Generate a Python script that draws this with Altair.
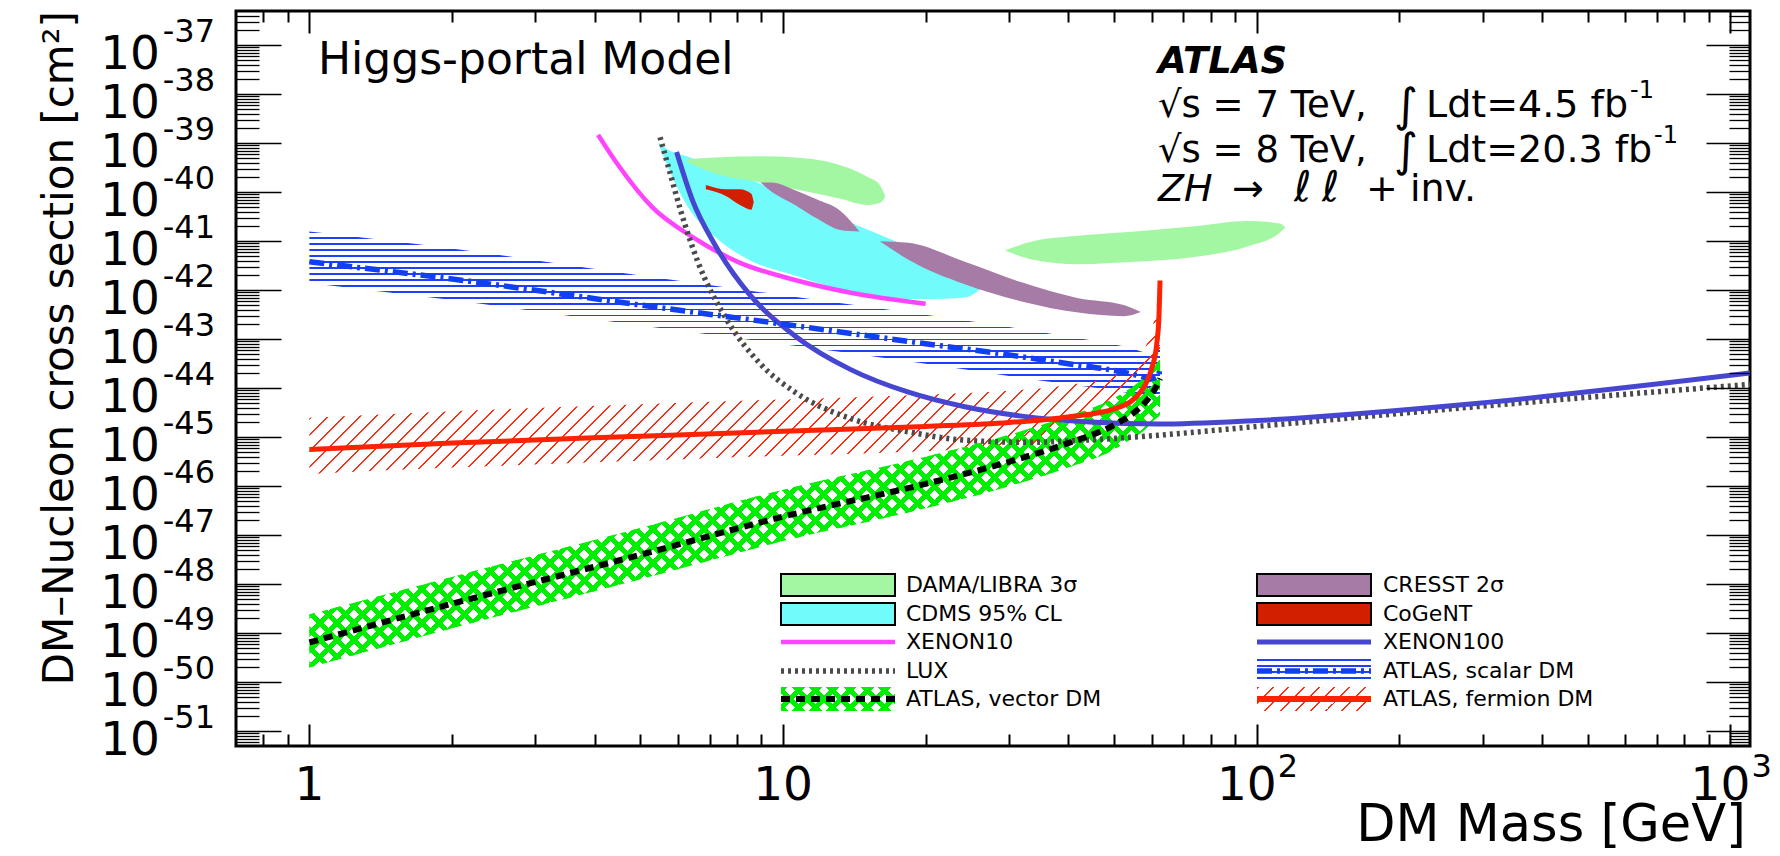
import altair as alt
import numpy as np
import pandas as pd

# ---------------- values ----------------
# ATLAS, vector DM (limit + band)
vec_m  = [1, 2, 5, 10, 20, 30, 40, 50, 55, 58, 60, 61.5, 62.5]
vec_c  = [6.5e-50, 4.0e-49, 4.0e-48, 2.4e-47, 1.12e-46, 3.16e-46, 7.6e-46, 1.78e-45, 3.16e-45, 5.0e-45, 7.6e-45, 1.12e-44, 1.58e-44]
vec_hi = [2.4e-49, 1.41e-48, 1.41e-47, 8.5e-47, 4.0e-46, 1.12e-45, 2.7e-45, 6.3e-45, 1.12e-44, 1.66e-44, 2.4e-44, 3.16e-44, 4.5e-44]
vec_lo = [2.0e-50, 1.26e-49, 1.26e-48, 7.6e-48, 3.55e-47, 1.0e-46, 2.4e-46, 5.6e-46, 1.0e-45, 1.41e-45, 2.0e-45, 2.5e-45, 2.8e-45]

# ATLAS, fermion DM
fer_m  = [1, 2, 5, 10, 20, 30, 40, 50, 55, 58, 60, 61.5, 62.2, 62.5]
fer_c  = [5.6e-46, 7.6e-46, 1.05e-45, 1.32e-45, 1.66e-45, 2.0e-45, 2.6e-45, 3.8e-45, 6.0e-45, 1.12e-44, 2.5e-44, 7.9e-44, 3.16e-43, 1.58e-42]
fer_hi = [2.5e-45, 3.4e-45, 4.7e-45, 5.9e-45, 7.4e-45, 8.9e-45, 1.17e-44, 1.78e-44, 3.16e-44, 6.3e-44, 1.58e-43, 5.0e-43, 1.58e-42, 2.0e-42]
fer_lo = [1.78e-46, 2.4e-46, 3.3e-46, 4.2e-46, 5.2e-46, 6.3e-46, 7.9e-46, 1.12e-45, 1.58e-45, 2.5e-45, 4.0e-45, 7.9e-45, 2.5e-44, 6.3e-44]

# ATLAS, scalar DM
sca_m  = [1, 2, 5, 10, 20, 30, 40, 50, 55, 60, 62, 62.5]
sca_c  = [3.8e-42, 1.7e-42, 5.0e-43, 2.04e-43, 8.1e-44, 4.8e-44, 3.16e-44, 2.3e-44, 1.9e-44, 1.58e-44, 1.78e-44, 2.8e-44]
sca_hi = [1.58e-41, 7.1e-42, 2.0e-42, 7.9e-43, 3.16e-43, 1.78e-43, 1.12e-43, 7.9e-44, 6.3e-44, 5.0e-44, 6.3e-44, 1.0e-43]
sca_lo = [1.41e-42, 6.3e-43, 1.9e-43, 7.9e-44, 3.16e-44, 1.78e-44, 1.2e-44, 8.9e-45, 7.6e-45, 6.3e-45, 7.1e-45, 7.9e-45]

# XENON10
x10_m = [4.07, 4.49, 5.30, 6.43, 8.02, 10.6, 13.9, 20]
x10_s = [1.48e-39, 3.55e-40, 4.9e-41, 1.23e-41, 3.8e-42, 1.62e-42, 8.9e-43, 5.3e-43]

# LUX
lux_m = [5.5, 5.76, 6.08, 6.61, 7.59, 8.95, 10.6, 13.9, 18.4, 24.2, 33, 45, 62, 100, 290, 1100]
lux_s = [1.33e-39, 2.7e-40, 4.2e-41, 3.8e-42, 2.6e-43, 3.16e-44, 8.3e-45, 2.4e-45, 1.29e-45, 8.7e-46, 7.9e-46, 8.9e-46, 1.1e-45, 1.66e-45, 4.2e-45, 1.2e-44]

# XENON100
x100_m = [5.96, 6.43, 7.18, 8.47, 10.6, 13.9, 18.4, 24.2, 31.9, 44.4, 62, 100, 290, 1100]
x100_s = [6.6e-40, 7.1e-41, 8.5e-42, 8.5e-43, 1.17e-43, 2.4e-44, 8.3e-45, 4.2e-45, 2.7e-45, 2.04e-45, 1.86e-45, 2.2e-45, 4.9e-45, 2.04e-44]

# DAMA/LIBRA 3 sigma (two regions)
dama1_m  = [6.26, 7.19, 8.96, 10.6, 13.2, 15.1, 16.0, 16.4]
dama1_hi = [4.7e-40, 5.1e-40, 5.4e-40, 5.1e-40, 3.55e-40, 2.04e-40, 1.41e-40, 8.9e-41]
dama1_lo = [4.2e-40, 2.4e-40, 1.58e-40, 1.15e-40, 7.4e-41, 5.5e-41, 6.0e-41, 7.6e-41]
dama2_m  = [29.4, 33.7, 42, 55.4, 73, 96, 112, 115]
dama2_hi = [6.5e-42, 1.0e-41, 1.29e-41, 1.58e-41, 2.0e-41, 2.6e-41, 2.3e-41, 1.9e-41]
dama2_lo = [6.5e-42, 4.2e-42, 3.4e-42, 3.8e-42, 4.7e-42, 7.9e-42, 1.5e-41, 1.9e-41]

# CDMS 95% CL
cdms_m  = [5.45, 5.76, 6.26, 7.18, 8.47, 10.6, 13.2, 16.4, 20.5, 24.2, 26.4]
cdms_hi = [1.02e-39, 7.1e-40, 5.4e-40, 3.3e-40, 1.86e-40, 7.1e-41, 2.9e-41, 1.23e-41, 4.9e-42, 2.45e-42, 1.17e-42]
cdms_lo = [1.02e-39, 2.7e-40, 5.5e-41, 1.23e-41, 4.2e-42, 2.0e-42, 1.05e-42, 6.9e-43, 6.6e-43, 7.1e-43, 1.17e-42]

# CRESST 2 sigma (two regions)
cr1_m  = [8.96, 9.46, 10.6, 11.8, 13.2, 14.5]
cr1_hi = [1.58e-40, 1.58e-40, 1.1e-40, 7.1e-41, 4.2e-41, 1.58e-41]
cr1_lo = [1.58e-40, 1.02e-40, 5.5e-41, 2.9e-41, 1.7e-41, 1.58e-41]
cr2_m  = [16.0, 18.4, 24.2, 31.9, 42, 52.4, 56.9]
cr2_hi = [1.0e-41, 9.3e-42, 3.8e-42, 1.45e-42, 6.9e-43, 5.0e-43, 3.6e-43]
cr2_lo = [1.0e-41, 4.2e-42, 1.32e-42, 5.9e-43, 3.5e-43, 2.95e-43, 3.6e-43]

# CoGeNT
cog_m  = [6.87, 7.59, 8.11, 8.57, 8.67]
cog_hi = [1.41e-40, 1.15e-40, 1.15e-40, 9.3e-41, 6.3e-41]
cog_lo = [1.15e-40, 8.3e-41, 5.5e-41, 4.4e-41, 6.3e-41]

# axis ticks / labels
x_major = [1, 10, 100, 1000]
y_exponents = list(range(-37, -52, -1))

# ---------------- layout / style ----------------
W, H = 1514, 735
XMIN, XMAX = 0.7, 1100.0
YMIN, YMAX = 5e-52, 5e-37
FONT = "DejaVu Sans"
PX = W / np.log10(XMAX / XMIN)
PY = H / np.log10(YMAX / YMIN)
TR = "rgba(255,255,255,0)"

C_DAMA, C_CDMS, C_CRESST, C_COG = "#a3f7a3", "#72fbfb", "#a67ba6", "#d21f00"
C_X10, C_LUX, C_X100 = "#ff44ff", "#4a4a4a", "#4646d0"
C_SCA, C_SCA_H, C_FER, C_FER_H, C_VEC = "#1040f0", "#1f3fff", "#ff2200", "#ff2a10", "#00ee00"

xs = alt.Scale(type="log", domain=[XMIN, XMAX], nice=False)
ys = alt.Scale(type="log", domain=[YMIN, YMAX], nice=False)


def stops(color, n, frac):
    out = []
    for i in range(n):
        a, b, c = i / n, (i + frac) / n, (i + 1) / n
        out += [alt.GradientStop(color=color, offset=a), alt.GradientStop(color=color, offset=b),
                alt.GradientStop(color=TR, offset=b), alt.GradientStop(color=TR, offset=min(c, 1.0))]
    return out


def grad_h(color, w, h, period, lw):
    n = max(1, int(round(h / period)))
    return alt.LinearGradient(gradient="linear", stops=stops(color, n, lw / (h / n)),
                              x1=0, y1=0, x2=0, y2=1)


def grad_d(color, w, h, period, lw, up=True):
    s = w + h
    n = max(1, int(round(s / period)))
    c = s / (w * w + h * h)
    st = stops(color, n, lw / (s / n))
    if up:
        return alt.LinearGradient(gradient="linear", stops=st, x1=0, y1=0, x2=c * w, y2=c * h)
    return alt.LinearGradient(gradient="linear", stops=st, x1=0, y1=1, x2=c * w, y2=1 - c * h)


def bbox(m, hi, lo):
    return ((np.log10(max(m)) - np.log10(min(m))) * PX,
            (np.log10(max(hi)) - np.log10(min(lo))) * PY)


X = lambda f="m": alt.X(f"{f}:Q", scale=xs, axis=None)
Y = lambda f: alt.Y(f"{f}:Q", scale=ys, axis=None)


def region(m, hi, lo, fill):
    df = pd.DataFrame({"m": m, "hi": hi, "lo": lo})
    return alt.Chart(df).mark_area(fill=fill, opacity=1, clip=True, interpolate="monotone").encode(
        x=X(), y=Y("hi"), y2="lo:Q")


def curve(m, s, color, width, dash=None, interp="monotone"):
    df = pd.DataFrame({"m": m, "s": s})
    kw = dict(color=color, strokeWidth=width, clip=True, interpolate=interp)
    if dash:
        kw["strokeDash"] = dash
    return alt.Chart(df).mark_line(**kw).encode(x=X(), y=Y("s"))


VEC_P, VEC_G = 17.0, 7.0
FER_P, FER_G = 16.0, 2.0

layers = []
# experimental regions
layers.append(region(cdms_m, cdms_hi, cdms_lo, C_CDMS))
layers.append(region(dama1_m, dama1_hi, dama1_lo, C_DAMA))
layers.append(region(dama2_m, dama2_hi, dama2_lo, C_DAMA))
layers.append(region(cr1_m, cr1_hi, cr1_lo, C_CRESST))
layers.append(region(cr2_m, cr2_hi, cr2_lo, C_CRESST))
layers.append(region(cog_m, cog_hi, cog_lo, C_COG))

# ATLAS bands
w, h = bbox(sca_m, sca_hi, sca_lo)
layers.append(region(sca_m, sca_hi, sca_lo, grad_h(C_SCA_H, w, h, 6.0, 1.6)))
w, h = bbox(fer_m, fer_hi, fer_lo)
layers.append(region(fer_m, fer_hi, fer_lo, grad_d(C_FER_H, w, h, FER_P, FER_G, up=True)))
w, h = bbox(vec_m, vec_hi, vec_lo)
layers.append(region(vec_m, vec_hi, vec_lo, grad_d(C_VEC, w, h, VEC_P, VEC_G, up=True)))
layers.append(region(vec_m, vec_hi, vec_lo, grad_d(C_VEC, w, h, VEC_P, VEC_G, up=False)))

# limit curves
layers.append(curve(x10_m, x10_s, C_X10, 4.5))
layers.append(curve(lux_m, lux_s, C_LUX, 5.5, [3, 4]))
layers.append(curve(x100_m, x100_s, C_X100, 5))
layers.append(curve(sca_m, sca_c, C_SCA, 5.5, [15, 5, 3, 5]))
layers.append(curve(fer_m, fer_c, C_FER, 5))
layers.append(curve(vec_m, vec_c, "black", 6, [9, 6]))

# ---------------- axes (inward ticks on all four sides) ----------------
dummy = pd.DataFrame({"m": [1.0], "s": [1e-40]})
x_minor = [v * 10.0 ** k for k in range(-1, 3) for v in range(2, 10) if XMIN * 1.001 < v * 10.0 ** k < XMAX]
y_major = [10.0 ** e for e in y_exponents]
y_minor = [v * 10.0 ** e for e in range(-52, -36) for v in range(2, 10) if YMIN * 1.001 < v * 10.0 ** e < YMAX * 0.999]
common = dict(labels=False, domain=False, grid=False, ticks=True, tickColor="black", title=None, zindex=1)


def axes_layer(ax, ay):
    return alt.Chart(dummy).mark_point(opacity=0, size=1).encode(
        x=alt.X("m:Q", scale=xs, axis=ax), y=alt.Y("s:Q", scale=ys, axis=ay))


layers.append(axes_layer(alt.Axis(orient="top", offset=-H, values=x_major, tickSize=22, tickWidth=2, **common),
                         alt.Axis(orient="right", offset=-W, values=y_major, tickSize=45, tickWidth=1.6, **common)))
layers.append(axes_layer(alt.Axis(orient="top", offset=-H, values=x_minor, tickSize=12, tickWidth=2, **common),
                         alt.Axis(orient="right", offset=-W, values=y_minor, tickSize=23, tickWidth=1.3, **common)))
layers.append(axes_layer(alt.Axis(orient="bottom", offset=-H, values=x_major, tickSize=22, tickWidth=2, **common),
                         alt.Axis(orient="left", offset=-W, values=y_major, tickSize=44, tickWidth=1.6, **common)))
layers.append(axes_layer(alt.Axis(orient="bottom", offset=-H, values=x_minor, tickSize=11, tickWidth=2, **common),
                         alt.Axis(orient="left", offset=-W, values=y_minor, tickSize=21, tickWidth=1.3, **common)))

# tick labels
ylab = pd.DataFrame({"s": y_major, "e": [str(e) for e in y_exponents]})
layers.append(alt.Chart(ylab).mark_text(font=FONT, fontSize=47, align="right", baseline="alphabetic", dy=24, text="10")
              .encode(x=alt.value(-76), y=Y("s")))
layers.append(alt.Chart(ylab).mark_text(font=FONT, fontSize=32, align="right", baseline="alphabetic", dy=-3)
              .encode(x=alt.value(-21), y=Y("s"), text="e:N"))
xl1 = pd.DataFrame({"m": [1, 10], "t": ["1", "10"]})
layers.append(alt.Chart(xl1).mark_text(font=FONT, fontSize=47, align="center", baseline="alphabetic")
              .encode(x=X(), y=alt.value(789), text="t:N"))
xl2 = pd.DataFrame({"m": [100, 1000], "e": ["2", "3"]})
layers.append(alt.Chart(xl2).mark_text(font=FONT, fontSize=47, align="right", baseline="alphabetic", dx=20, text="10")
              .encode(x=X(), y=alt.value(789)))
layers.append(alt.Chart(xl2).mark_text(font=FONT, fontSize=32, align="left", baseline="alphabetic", dx=21)
              .encode(x=X(), y=alt.value(766), text="e:N"))

one = pd.DataFrame({"a": [0]})


def txt(s, x, y, size, align="left", baseline="alphabetic", angle=0, **kw):
    return alt.Chart(one).mark_text(text=s, font=FONT, fontSize=size, align=align, baseline=baseline,
                                    angle=angle, color="black", **kw).encode(x=alt.value(x), y=alt.value(y))


# axis titles
layers.append(txt("DM Mass [GeV]", 1510, 830, 51, align="right"))
layers.append(txt("DM–Nucleon cross section [cm²]", -163, 0, 42, align="right", angle=270))

# annotations
layers.append(txt("Higgs-portal Model", 82, 63, 44))
layers.append(txt("ATLAS", 922, 62, 37, fontWeight="bold", fontStyle="italic"))
for base, lumi, sup_x, yb in [("√s = 7 TeV,", "Ldt=4.5 fb", 1394, 106), ("√s = 8 TeV,", "Ldt=20.3 fb", 1418, 151)]:
    layers.append(txt(base, 922, yb, 37))
    layers.append(txt("∫", 1158, yb + 4, 46))
    layers.append(txt(lumi, 1190, yb, 38))
    layers.append(txt("-1", sup_x, yb - 19, 24))
layers.append(txt("ZH", 922, 190, 38, fontStyle="italic"))
layers.append(txt("→", 996, 190, 38))
layers.append(txt("ℓ", 1058, 190, 42, fontStyle="italic"))
layers.append(txt("ℓ", 1086, 190, 42, fontStyle="italic"))
layers.append(txt("+ inv.", 1130, 190, 38))

# ---------------- legend ----------------
LX = [545, 1021]
SW = 114
TX = [670, 1147]
LY = [574, 603, 631, 660, 688]


def box(c, r, fill):
    return alt.Chart(one).mark_rect(fill=fill, stroke="black", strokeWidth=2).encode(
        x=alt.value(LX[c]), x2=alt.value(LX[c] + SW), y=alt.value(LY[r] - 11), y2=alt.value(LY[r] + 11))


def hatchbox(c, r, fill):
    return alt.Chart(one).mark_rect(fill=fill).encode(
        x=alt.value(LX[c]), x2=alt.value(LX[c] + SW), y=alt.value(LY[r] - 12), y2=alt.value(LY[r] + 12))


def rule(c, r, color, width, dash=None):
    kw = dict(color=color, strokeWidth=width)
    if dash:
        kw["strokeDash"] = dash
    return alt.Chart(one).mark_rule(**kw).encode(
        x=alt.value(LX[c]), x2=alt.value(LX[c] + SW), y=alt.value(LY[r]))


def label(c, r, s):
    return txt(s, TX[c], LY[r], 22, baseline="middle")


layers += [box(0, 0, C_DAMA), label(0, 0, "DAMA/LIBRA 3σ"),
           box(0, 1, C_CDMS), label(0, 1, "CDMS 95% CL"),
           rule(0, 2, C_X10, 4.5), label(0, 2, "XENON10"),
           rule(0, 3, C_LUX, 5.5, [3, 4]), label(0, 3, "LUX"),
           hatchbox(0, 4, grad_d(C_VEC, SW, 24, VEC_P, VEC_G, up=True)),
           hatchbox(0, 4, grad_d(C_VEC, SW, 24, VEC_P, VEC_G, up=False)),
           rule(0, 4, "black", 6, [9, 6]), label(0, 4, "ATLAS, vector DM"),
           box(1, 0, C_CRESST), label(1, 0, "CRESST 2σ"),
           box(1, 1, C_COG), label(1, 1, "CoGeNT"),
           rule(1, 2, C_X100, 5), label(1, 2, "XENON100"),
           hatchbox(1, 3, grad_h(C_SCA_H, SW, 24, 6.0, 1.6)),
           rule(1, 3, C_SCA, 5.5, [15, 5, 3, 5]), label(1, 3, "ATLAS, scalar DM"),
           hatchbox(1, 4, grad_d(C_FER_H, SW, 24, FER_P, FER_G, up=True)),
           rule(1, 4, C_FER, 6), label(1, 4, "ATLAS, fermion DM")]

chart = (alt.layer(*layers)
         .resolve_axis(x="independent", y="independent")
         .properties(width=W, height=H, autosize=alt.AutoSizeParams(type="none"),
                     padding={"left": 236, "top": 11, "right": 30, "bottom": 110},
                     background="white")
         .configure_view(stroke="black", strokeWidth=3))

chart.save("out.html", embed_options={"renderer": "svg", "actions": False})
